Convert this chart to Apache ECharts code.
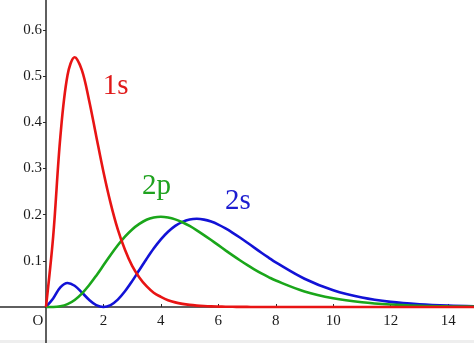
<!DOCTYPE html>
<html>
<head>
<meta charset="utf-8">
<script src="https://cdn.jsdelivr.net/npm/echarts@6/dist/echarts.min.js"></script>
<style>
html,body{margin:0;padding:0;background:#fff;}
#c{width:474px;height:343px;}
</style>
</head>
<body>
<div id="c"></div>
<script>
// radius values (Bohr radii)
const rValues = [0,0.25,0.5,0.75,1,1.25,1.5,1.75,2,2.25,2.5,2.75,3,3.25,3.5,3.75,4,4.25,4.5,4.75,5,5.25,5.5,5.75,6,6.25,6.5,6.75,7,7.25,7.5,7.75,8,9,10,11,12,13,14,15];
// radial probability values
const s1Values = [0,0.152,0.368,0.502,0.541,0.513,0.448,0.370,0.293,0.225,0.168,0.124,0.089,0.064,0.045,0.031,0.022,0.0147,0.010,0.0068,0.0045,0.0030,0.0020,0.0013,0.0009,0.0006,0.0004,0.0003,0.0002,0.0001,0.0001,0.0001,0,0,0,0,0,0,0,0];
const p2Values = [0,0.0001,0.0016,0.0062,0.0153,0.0291,0.0471,0.0679,0.0902,0.1126,0.1336,0.1523,0.168,0.180,0.189,0.1938,0.1954,0.1938,0.1898,0.1835,0.1755,0.1661,0.1558,0.1450,0.1339,0.1227,0.1118,0.1013,0.0912,0.0817,0.0729,0.0648,0.0573,0.0337,0.0189,0.0102,0.0053,0.0027,0.0013,0.0007];
const s2Values = [0,0.0186,0.0426,0.0519,0.046,0.0315,0.0157,0.0042,0,0.0042,0.016,0.034,0.056,0.080,0.104,0.1266,0.1465,0.1630,0.1758,0.1845,0.1895,0.1910,0.1893,0.1850,0.1785,0.1702,0.1607,0.1505,0.1397,0.1286,0.1176,0.1070,0.0966,0.0612,0.0363,0.0205,0.0111,0.0058,0.0029,0.0015];
const xTickValues = [2,4,6,8,10,12,14];
const xTickLabels = ['2','4','6','8','10','12','14'];
const yTickValues = [0.1,0.2,0.3,0.4,0.5,0.6];
const yTickLabels = ['0.1','0.2','0.3','0.4','0.5','0.6'];
const seriesNames = ['1s','2p','2s'];

const colors = ['#e81414','#1aa61a','#1212d6'];
const pair = (ys) => rValues.map((r,i) => [r, ys[i]]);

const chart = echarts.init(document.getElementById('c'), null, {renderer:'canvas'});
const font = 'Liberation Serif, Times New Roman, serif';

chart.setOption({
  animation:false,
  backgroundColor:'#ffffff',
  grid:{left:0,right:0,top:0,bottom:0,containLabel:false,outerBoundsMode:'none'},
  xAxis:{
    type:'value', min:-1.6, max:14.9,
    splitLine:{show:false},
    axisLine:{onZero:true, lineStyle:{color:'#2a2a2a', width:1.5}},
    axisTick:{show:true, inside:true, length:3, customValues:xTickValues, lineStyle:{color:'#2a2a2a'}},
    axisLabel:{show:false}
  },
  yAxis:{
    type:'value', min:-0.078, max:0.665,
    splitLine:{show:false},
    axisLine:{onZero:true, lineStyle:{color:'#2a2a2a', width:1.5}},
    axisTick:{show:true, inside:false, length:3, customValues:yTickValues, lineStyle:{color:'#2a2a2a'}},
    axisLabel:{show:false}
  },
  series:[s1Values,p2Values,s2Values].map((ys,i)=>({
    name:seriesNames[i], type:'line', data:pair(ys), smooth:0.35, showSymbol:false,
    lineStyle:{color:colors[i], width:2.6}, z:3-i, clip:true
  }))
});

function place(){
  const lab = [
    {t:'1s', at:[1.98,0.446], c:'#e01818'},
    {t:'2p', at:[3.34,0.230], c:'#1fa21f'},
    {t:'2s', at:[6.23,0.197], c:'#1c1cd0'}
  ];
  const els = lab.map(l=>{
    const p = chart.convertToPixel({gridIndex:0}, l.at);
    return {type:'text', x:p[0], y:p[1], style:{text:l.t, fill:l.c, font:'29px '+font, verticalAlign:'bottom'}};
  });
  const o = chart.convertToPixel({gridIndex:0}, [0,0]);
  xTickValues.forEach((v,i)=>{
    const p = chart.convertToPixel({gridIndex:0}, [v,0]);
    els.push({type:'text', x:p[0], y:p[1]+7, style:{text:xTickLabels[i], fill:'#1a1a1a', font:'15px '+font, align:'center', verticalAlign:'top'}});
  });
  yTickValues.forEach((v,i)=>{
    const p = chart.convertToPixel({gridIndex:0}, [0,v]);
    els.push({type:'text', x:p[0]-4, y:p[1], style:{text:yTickLabels[i], fill:'#1a1a1a', font:'15px '+font, align:'right', verticalAlign:'middle'}});
  });
  els.push({type:'text', x:o[0]-8, y:o[1]+7, style:{text:'O', fill:'#1a1a1a', font:'15px '+font, align:'center', verticalAlign:'top'}});
  els.push({type:'rect', shape:{x:0,y:340,width:474,height:3}, style:{fill:'#eeeeee'}, silent:true});
  chart.setOption({graphic:els});
}
place();
</script>
</body>
</html>
